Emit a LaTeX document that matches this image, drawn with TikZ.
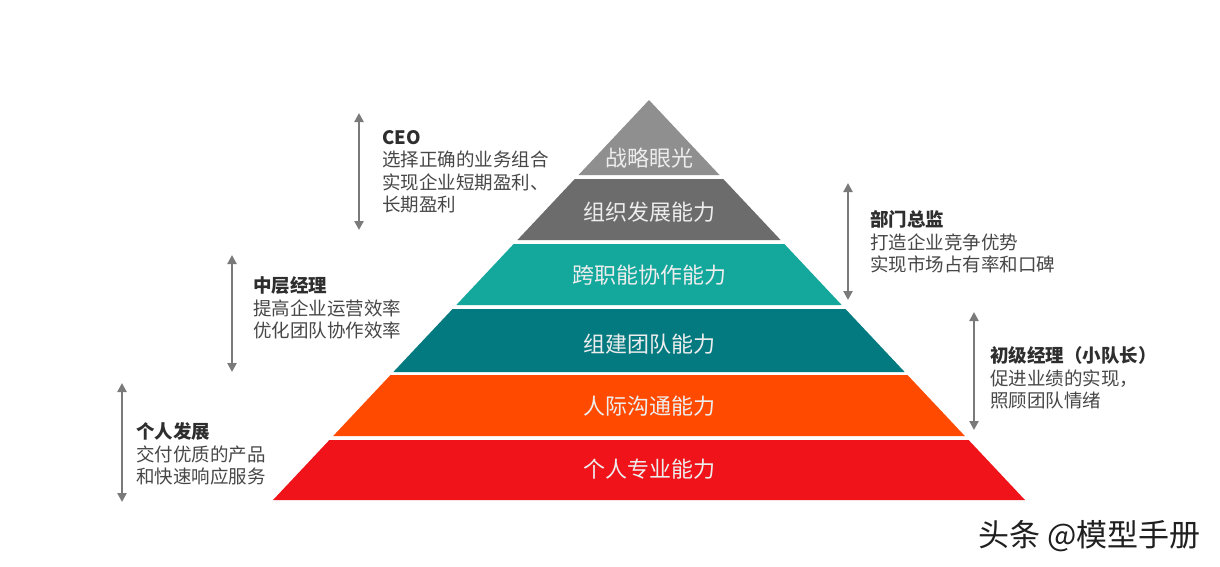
\documentclass[tikz,border=0pt]{standalone}
\usepackage{fontspec}
\setmainfont{Noto Sans CJK SC}
\usepackage{tikz}
\usetikzlibrary{arrows.meta}
\definecolor{layerA}{HTML}{8F8F8F}
\definecolor{layerB}{HTML}{6C6C6C}
\definecolor{layerC}{HTML}{14A89D}
\definecolor{layerD}{HTML}{037A80}
\definecolor{layerE}{HTML}{FF4A00}
\definecolor{layerF}{HTML}{F0141A}
\definecolor{arrowgray}{HTML}{7A7A7A}
\definecolor{txtgray}{HTML}{474747}
\definecolor{ttlgray}{HTML}{2E2E2E}
\tikzset{
  layertext/.style={
    font=\fontsize{22}{26}\selectfont, text=white!93!black, inner sep=0pt
  },
  rolearrow/.style={
    {Triangle[length=9pt,width=9pt]}-{Triangle[length=9pt,width=9pt]},
    line width=2.8pt, color=arrowgray
  },
  roletext/.style={
    font=\fontsize{18.5}{22.5}\selectfont, text=txtgray,
    align=left, anchor=west, inner sep=0pt
  },
  watermark/.style={
    font=\fontsize{31}{33}\selectfont, text=black!88, inner sep=0pt, anchor=west
  },
}
\newcommand{\roletitle}[1]{{\bfseries\color{ttlgray}#1}}

\begin{document}
\begin{tikzpicture}[x=1pt,y=-1pt]
  \useasboundingbox[fill=white] (0,0) rectangle (1220,566);

  % pyramid, top to bottom: top/bottom/colour/name/text y/text
  \foreach \t/\b/\c/\nm/\ty/\txt in {
      100/175/layerA/vision/158/战略眼光,
      179/240/layerB/orgdev/212/组织发展能力,
      244/305/layerC/crossfn/275/跨职能协作能力,
      309/372/layerD/teambuild/344/组建团队能力,
      375/436/layerE/commun/406/人际沟通能力,
      440/500/layerF/profskill/469/个人专业能力}{
    \fill[\c] ({649-0.94*(\t-100)},\t) -- ({649+0.94*(\t-100)},\t)
      -- ({649+0.94*(\b-100)},\b) -- ({649-0.94*(\b-100)},\b) -- cycle;
    \node[layertext] (\nm) at (649,\ty) {\txt};
  }

  % role arrows
  \coordinate (ceo-up) at (359,113);
  \coordinate (ceo-dn) at (359,230);
  \coordinate (dir-up) at (848,183);
  \coordinate (dir-dn) at (848,300);
  \coordinate (mid-up) at (232,255);
  \coordinate (mid-dn) at (232,372);
  \coordinate (jun-up) at (974,312);
  \coordinate (jun-dn) at (974,430);
  \coordinate (ind-up) at (122,383);
  \coordinate (ind-dn) at (122,502);
  \draw[rolearrow] (ceo-up) -- (ceo-dn);
  \draw[rolearrow] (dir-up) -- (dir-dn);
  \draw[rolearrow] (mid-up) -- (mid-dn);
  \draw[rolearrow] (jun-up) -- (jun-dn);
  \draw[rolearrow] (ind-up) -- (ind-dn);

  % role texts
  \node[roletext] (ceo) at (382,172) {\roletitle{CEO}\\选择正确的业务组合\\实现企业短期盈利、\\长期盈利};
  \node[roletext] (director) at (870,242) {\roletitle{部门总监}\\打造企业竞争优势\\实现市场占有率和口碑};
  \node[roletext] (midmgr) at (253,308) {\roletitle{中层经理}\\提高企业运营效率\\优化团队协作效率};
  \node[roletext] (junmgr) at (990,378) {\roletitle{初级经理（小队长）}\\促进业绩的实现，\\照顾团队情绪};
  \node[roletext] (individual) at (136,454) {\roletitle{个人发展}\\交付优质的产品\\和快速响应服务};

  \node[watermark] (mark) at (978,536) {头条 @模型手册};
\end{tikzpicture}
\end{document}
